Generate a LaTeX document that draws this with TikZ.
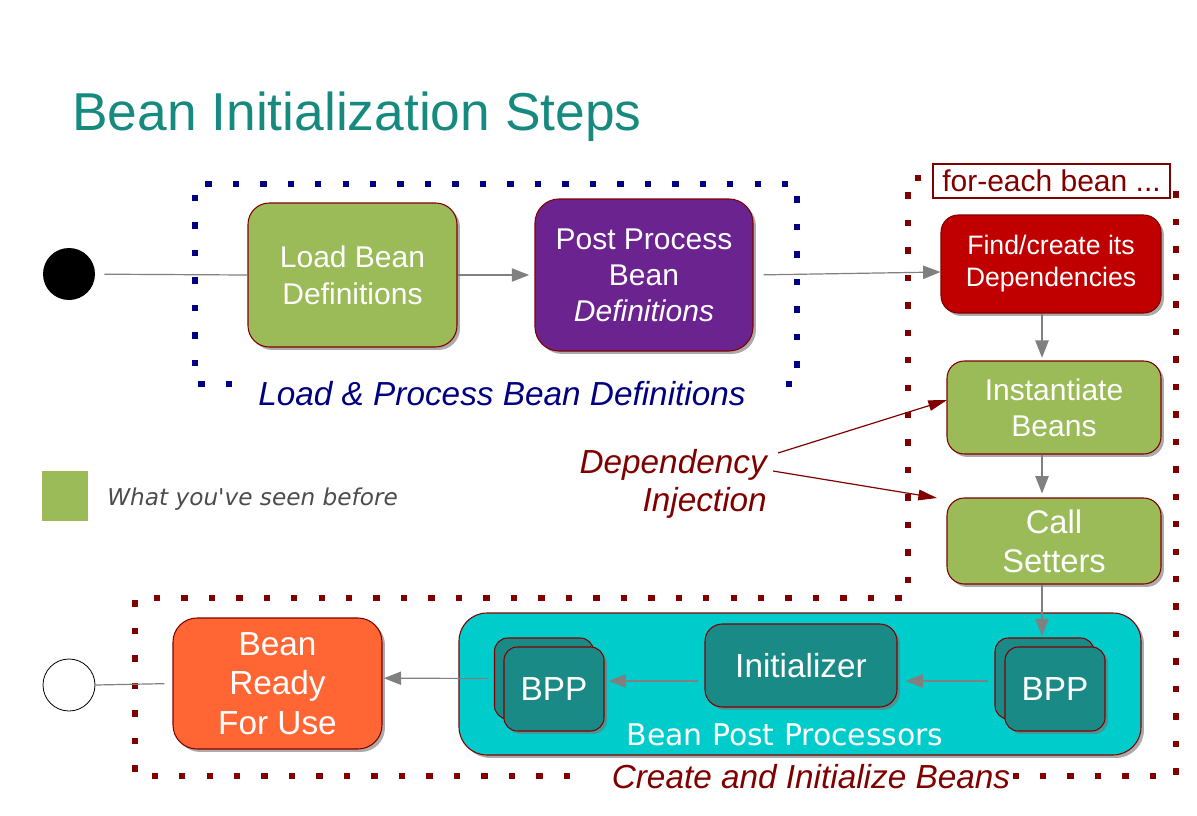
\documentclass[tikz,border=0pt]{standalone}
\usepackage{fontspec}
\setmainfont{Liberation Sans}
\newfontfamily\djv{DejaVu Sans}
\usetikzlibrary{arrows.meta,shadows,calc}
\definecolor{bgreen}{RGB}{155,187,89}
\definecolor{bpurple}{RGB}{107,35,143}
\definecolor{bred}{RGB}{192,0,0}
\definecolor{borange}{RGB}{255,102,51}
\definecolor{bcyan}{RGB}{0,204,204}
\definecolor{bteal}{RGB}{26,138,135}
\definecolor{tteal}{RGB}{23,138,128}
\definecolor{dred}{RGB}{128,0,0}
\definecolor{navy}{RGB}{0,0,128}
\definecolor{cgray}{RGB}{128,128,128}
\begin{document}
\begin{tikzpicture}[x=0.75pt,y=-0.75pt,
  box/.style={draw=dred, line width=0.8pt, text=white, align=center, inner sep=0pt,
    drop shadow={shadow xshift=2.2pt,shadow yshift=-2.2pt,fill=black!55,opacity=0.6}},
  conn/.style={draw=cgray, line width=0.9pt, -{Triangle[length=13pt,width=10pt]}},
  plainline/.style={draw=cgray, line width=0.9pt},
  diarrow/.style={draw=dred, line width=0.9pt, -{Triangle[length=14pt,width=8pt]}},
  bdots/.style={draw=navy, line width=4.8pt, dash pattern=on 4.8pt off 15.8pt},
  rdots/.style={draw=dred, line width=4.8pt, dash pattern=on 4.8pt off 15.8pt}
]
\useasboundingbox (0,0) rectangle (1197,815);

% title
\node[anchor=base west, inner sep=0, text=tteal, font=\fontsize{40pt}{48pt}\selectfont] (title) at (72,130) {Bean Initialization Steps};

% dotted frames
\draw[bdots] (232,384) -- (195,384) -- (195,184) -- (797,184) -- (797,384) -- (770,384);
\draw[rdots] (570,776) -- (135,776) -- (135,598) -- (908,598) -- (908,178) -- (1176,178) -- (1176,776) -- (1012,776);

% start / end
\node[circle, fill=black, minimum size=39pt, inner sep=0] (start) at (69,274) {};
\node[circle, draw=black, line width=0.6pt, fill=white, minimum size=39pt, inner sep=0] (end) at (69,685) {};

% top row
\node[box, fill=bgreen, rounded corners=16pt, minimum width=156.75pt, minimum height=108pt,
  font=\fontsize{22.5pt}{27.75pt}\selectfont] (load) at (352.5,275) {Load Bean\\Definitions};
\node[box, fill=bpurple, rounded corners=18pt, minimum width=163.5pt, minimum height=114pt,
  font=\fontsize{22.5pt}{27pt}\selectfont] (post) at (644,275) {Post Process\\Bean\\\textit{Definitions}};

\node[anchor=center, inner sep=0, text=navy, font=\itshape\fontsize{25pt}{30pt}\selectfont] (lplabel) at (502,394) {Load \& Process Bean Definitions};

% for-each column
\node[draw=dred, line width=0.8pt, fill=white, text=dred, inner sep=0, minimum width=177.75pt, minimum height=25.5pt,
  font=\fontsize{22.5pt}{26pt}\selectfont] (foreach) at (1051.5,181) {for-each bean ...};
\node[box, fill=bred, rounded corners=13pt, minimum width=165pt, minimum height=73.5pt,
  font=\fontsize{20pt}{24pt}\selectfont] (find) at (1051,264) {Find/create its\\Dependencies};
\node[box, fill=bgreen, rounded corners=13pt, minimum width=160.5pt, minimum height=69.75pt,
  font=\fontsize{22.5pt}{27pt}\selectfont] (inst) at (1054,407.5) {Instantiate\\Beans};
\node[box, fill=bgreen, rounded corners=13pt, minimum width=160.5pt, minimum height=64.5pt,
  font=\fontsize{24.5pt}{29pt}\selectfont] (call) at (1054,541) {Call\\Setters};

% bottom container
\node[box, fill=bcyan, rounded corners=21pt, minimum width=511.5pt, minimum height=106.5pt] (bpp) at (800,684) {};
\node[inner sep=0, text=white, font=\djv\fontsize{22.4pt}{26pt}\selectfont] (bpplabel) at (785,735) {Bean Post Processors};
\node[box, fill=bteal, rounded corners=13pt, minimum width=144pt, minimum height=62.25pt,
  font=\fontsize{25pt}{29pt}\selectfont] (init) at (801,665.5) {Initializer};
\node[box, fill=bteal, rounded corners=10pt, minimum width=74.25pt, minimum height=60.75pt] (bpprb) at (1044.5,678.5) {};
\node[box, fill=bteal, rounded corners=10pt, minimum width=75pt, minimum height=63pt,
  font=\fontsize{25pt}{29pt}\selectfont] (bpprf) at (1055,689) {BPP};
\node[box, fill=bteal, rounded corners=10pt, minimum width=74.25pt, minimum height=60.75pt] (bpplb) at (544,678.5) {};
\node[box, fill=bteal, rounded corners=10pt, minimum width=75pt, minimum height=63pt,
  font=\fontsize{25pt}{29pt}\selectfont] (bpplf) at (554,689) {BPP};

\node[box, fill=borange, rounded corners=18pt, minimum width=156.75pt, minimum height=98.25pt,
  font=\fontsize{25pt}{29.5pt}\selectfont] (ready) at (277.5,683.5) {Bean\\Ready\\For Use};

\node[inner sep=0, text=dred, font=\itshape\fontsize{25pt}{30pt}\selectfont] (cilabel) at (811,777) {Create and Initialize Beans};

% legend
\node[fill=bgreen, minimum width=34.5pt, minimum height=37.5pt, inner sep=0] (legsq) at (65,496) {};
\node[anchor=west, inner sep=0, text=black!70, font=\djv\itshape\fontsize{17.4pt}{20pt}\selectfont] (legtxt) at (107,499) {What you've seen before};

% dependency injection
\node[anchor=east, align=right, inner sep=0, text=dred, font=\itshape\fontsize{25pt}{28.5pt}\selectfont] (dep) at (767,484) {Dependency\\Injection};
\coordinate (d1s) at (778,453);
\coordinate (d1e) at (947,400);
\coordinate (d2s) at (773,471);
\coordinate (d2e) at (937,498);
\draw[diarrow] (d1s) -- (d1e);
\draw[diarrow] (d2s) -- (d2e);

% connectors
\coordinate (colx) at (1042,0);
\coordinate (ly) at (0,681);
\draw[plainline, shorten <=6.75pt] (start) -- (load.west);
\draw[conn, shorten >=4pt] (load.east) -- (load.east -| post.west);
\draw[conn, shorten <=7.5pt] (post.east) -- ([yshift=-6pt]find.west);
\draw[conn, shorten >=2pt] (find.south -| colx) -- (inst.north -| colx);
\draw[conn, shorten >=3pt] (inst.south -| colx) -- (call.north -| colx);
\draw[conn, shorten >=1pt] (call.south -| colx) -- (bpprb.north -| colx);
\draw[conn, shorten <=4.5pt, shorten >=6pt] (bpprb.west |- ly) -- (init.east |- ly);
\draw[conn, shorten <=5pt, shorten >=3pt] (init.west |- ly) -- (bpplf.east |- ly);
\draw[conn, shorten <=5pt, shorten >=1pt] (bpplb.west) -- ([yshift=4pt]ready.east);
\draw[plainline, shorten <=6pt] (ready.west) -- (end.east);
\end{tikzpicture}
\end{document}
